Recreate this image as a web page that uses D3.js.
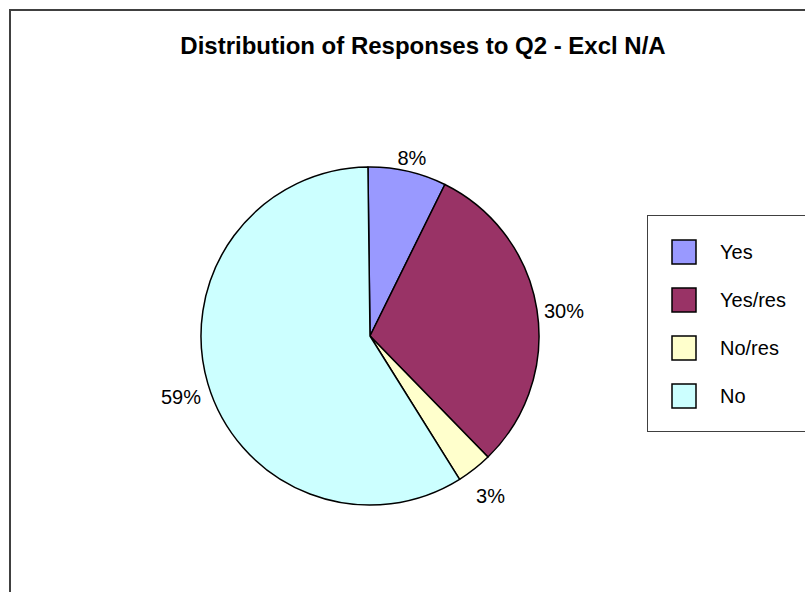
<!DOCTYPE html>
<html><head><meta charset="utf-8">
<script src="https://cdn.jsdelivr.net/npm/d3@7"></script>
<style>
html,body{margin:0;padding:0;background:#fff;}
svg{display:block;font-family:Arial,"Liberation Sans",sans-serif;}
</style></head>
<body><svg id="chart" width="805" height="592"></svg>
<script>
const categories = ["Yes", "Yes/res", "No/res", "No"];
const values = [7.5, 30.4, 3.4, 58.7];
const colors = ["#9999FF", "#993366", "#FFFFCC", "#CCFFFF"];
const title = "Distribution of Responses to Q2 - Excl N/A";

const svg = d3.select("#chart");
svg.append("rect").attr("x",10).attr("y",10).attr("width",820).attr("height",620)
  .attr("fill","#fff").attr("stroke","#404040").attr("stroke-width",2);

svg.append("text").attr("x",423).attr("y",54).attr("text-anchor","middle")
  .attr("font-size",24).attr("font-weight","bold").attr("fill","#000").text(title);

const cx = 370, cy = 336, r = 169;
const startOffset = -0.7 * Math.PI / 180;
const pie = d3.pie().sort(null).value(d => d)
  .startAngle(startOffset).endAngle(startOffset + 2*Math.PI);
const arcs = pie(values);
const arc = d3.arc().innerRadius(0).outerRadius(r);
const total = d3.sum(values);

const g = svg.append("g").attr("transform",`translate(${cx},${cy})`);
g.selectAll("path").data(arcs).join("path")
  .attr("d", arc).attr("fill",(d,i)=>colors[i])
  .attr("stroke","#000").attr("stroke-width",1.5).attr("stroke-linejoin","round");

// labels
const lw = 40, lh = 20, gap = 6;
g.selectAll("text.lbl").data(arcs).join("text").attr("class","lbl")
  .each(function(d){
    const a = (d.startAngle + d.endAngle)/2;
    const s = Math.sin(a), c = -Math.cos(a);
    const R = r + gap + Math.abs(s)*lw/2 + Math.abs(c)*lh/2;
    const px = R*s, py = R*c + 6;
    d3.select(this).attr("x",px).attr("y",py+7).attr("text-anchor","middle")
      .attr("font-size",20).attr("fill","#000")
      .text(Math.round(d.data/total*100) + "%");
  });

// legend
svg.append("rect").attr("x",647.5).attr("y",215.5).attr("width",170).attr("height",216)
  .attr("fill","#fff").attr("stroke","#404040").attr("stroke-width",1);
const ly = d3.scalePoint().domain(categories).range([252, 396]);
const lg = svg.append("g").selectAll("g").data(categories).join("g")
  .attr("transform", d => `translate(0,${ly(d)})`);
lg.append("rect").attr("x",672).attr("y",-12).attr("width",24).attr("height",24)
  .attr("fill",(d,i)=>colors[i]).attr("stroke","#000").attr("stroke-width",1.5);
lg.append("text").attr("x",720).attr("y",7).attr("font-size",20).attr("fill","#000").text(d=>d);
</script></body></html>
